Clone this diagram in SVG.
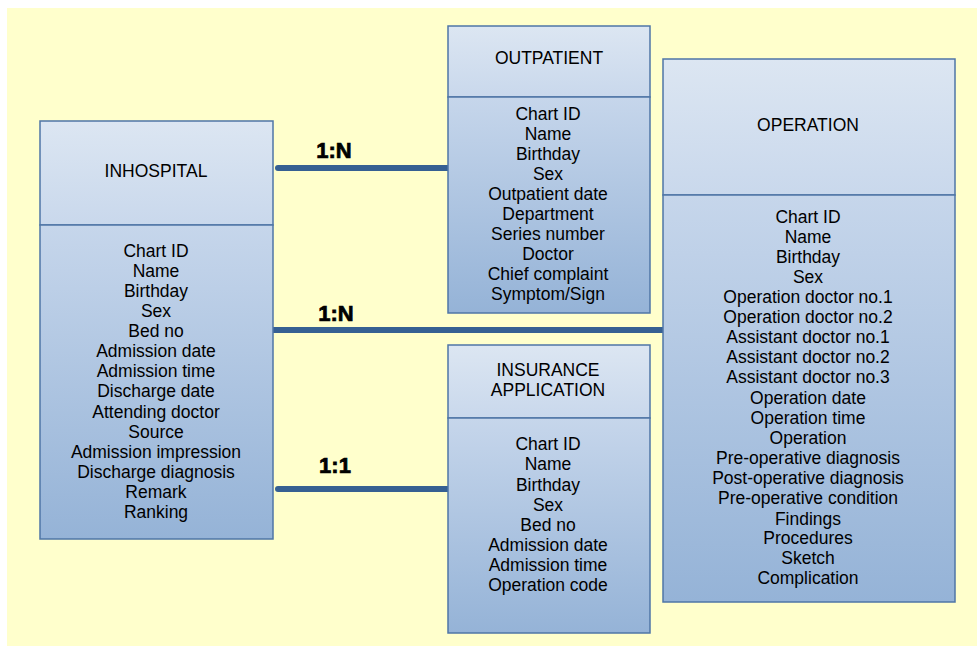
<svg xmlns="http://www.w3.org/2000/svg" width="977" height="646" viewBox="0 0 977 646">
<defs>
<linearGradient id="hdr" x1="0" y1="0" x2="0" y2="1">
<stop offset="0" stop-color="#dce6f2"/>
<stop offset="1" stop-color="#c9d8ec"/>
</linearGradient>
<linearGradient id="body" x1="0" y1="0" x2="0" y2="1">
<stop offset="0" stop-color="#c6d6eb"/>
<stop offset="1" stop-color="#95b3d7"/>
</linearGradient>
<style>
.box{stroke:#4f76a6;stroke-width:1.5}
.h{fill:url(#hdr)}
.b{fill:url(#body)}
text{font-family:"Liberation Sans",Arial,sans-serif;font-size:17.5px;fill:#000;text-anchor:middle}
.rel{font-weight:bold;font-size:22px;stroke:#000;stroke-width:0.7}
.conn{stroke:#366092;stroke-width:6;stroke-linecap:round;fill:none}
</style>
</defs>
<rect x="7" y="8" width="970" height="638" fill="#ffffcc"/>
<g id="connectors">
<line class="conn" x1="278" y1="168" x2="450" y2="168"/>
<line class="conn" x1="273" y1="330" x2="664" y2="330"/>
<line class="conn" x1="278" y1="489" x2="450" y2="489"/>
<text class="rel" x="334" y="158">1:N</text>
<text class="rel" x="336" y="321">1:N</text>
<text class="rel" x="335" y="473">1:1</text>
</g>
<g id="inhospital">
<rect class="box h" x="40" y="121" width="233" height="104"/>
<rect class="box b" x="40" y="225" width="233" height="314"/>
<text x="156" y="177">INHOSPITAL</text>
<text x="156" y="257">Chart ID</text>
<text x="156" y="277">Name</text>
<text x="156" y="297">Birthday</text>
<text x="156" y="317">Sex</text>
<text x="156" y="337">Bed no</text>
<text x="156" y="357">Admission date</text>
<text x="156" y="377">Admission time</text>
<text x="156" y="397">Discharge date</text>
<text x="156" y="418">Attending doctor</text>
<text x="156" y="438">Source</text>
<text x="156" y="458">Admission impression</text>
<text x="156" y="478">Discharge diagnosis</text>
<text x="156" y="498">Remark</text>
<text x="156" y="518">Ranking</text>
</g>
<g id="outpatient">
<rect class="box h" x="448" y="26" width="202" height="71"/>
<rect class="box b" x="448" y="97" width="202" height="216"/>
<text x="549" y="64">OUTPATIENT</text>
<text x="548" y="120">Chart ID</text>
<text x="548" y="140">Name</text>
<text x="548" y="160">Birthday</text>
<text x="548" y="180">Sex</text>
<text x="548" y="200">Outpatient date</text>
<text x="548" y="220">Department</text>
<text x="548" y="240">Series number</text>
<text x="548" y="260">Doctor</text>
<text x="548" y="280">Chief complaint</text>
<text x="548" y="300">Symptom/Sign</text>
</g>
<g id="insurance">
<rect class="box h" x="448" y="345" width="202" height="73"/>
<rect class="box b" x="448" y="418" width="202" height="215"/>
<text x="548" y="376">INSURANCE</text>
<text x="548" y="396">APPLICATION</text>
<text x="548" y="450">Chart ID</text>
<text x="548" y="470">Name</text>
<text x="548" y="491">Birthday</text>
<text x="548" y="511">Sex</text>
<text x="548" y="531">Bed no</text>
<text x="548" y="551">Admission date</text>
<text x="548" y="571">Admission time</text>
<text x="548" y="591">Operation code</text>
</g>
<g id="operation">
<rect class="box h" x="663" y="59" width="292" height="136"/>
<rect class="box b" x="663" y="195" width="292" height="407"/>
<text x="808" y="131">OPERATION</text>
<text x="808" y="223">Chart ID</text>
<text x="808" y="243">Name</text>
<text x="808" y="263">Birthday</text>
<text x="808" y="283">Sex</text>
<text x="808" y="303">Operation doctor no.1</text>
<text x="808" y="323">Operation doctor no.2</text>
<text x="808" y="343">Assistant doctor no.1</text>
<text x="808" y="363">Assistant doctor no.2</text>
<text x="808" y="383">Assistant doctor no.3</text>
<text x="808" y="404">Operation date</text>
<text x="808" y="424">Operation time</text>
<text x="808" y="444">Operation</text>
<text x="808" y="464">Pre-operative diagnosis</text>
<text x="808" y="484">Post-operative diagnosis</text>
<text x="808" y="504">Pre-operative condition</text>
<text x="808" y="525">Findings</text>
<text x="808" y="544">Procedures</text>
<text x="808" y="564">Sketch</text>
<text x="808" y="584">Complication</text>
</g>
</svg>
